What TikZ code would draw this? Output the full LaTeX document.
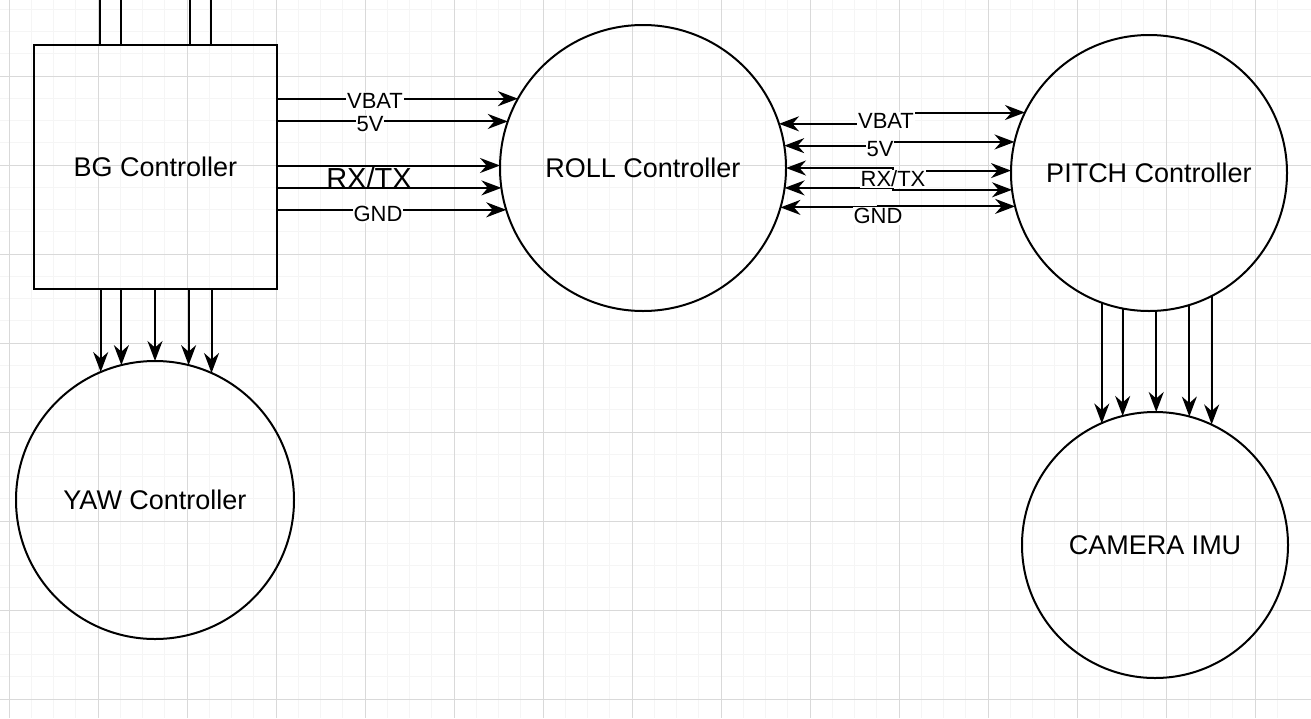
\documentclass[tikz,border=0pt]{standalone}
\usepackage{fontspec}
\setmainfont{Liberation Sans}
\usetikzlibrary{arrows.meta}
\begin{document}
\begin{tikzpicture}[x=1pt,y=-1pt,line width=2pt,
  >={Stealth[length=20pt,width=15pt]},
  ctrl/.style={draw, circle, inner sep=0pt, outer sep=0pt, font=\fontsize{27}{30}\selectfont},
  lab/.style={fill=white, inner sep=1pt, font=\fontsize{22}{24}\selectfont}]
\useasboundingbox (0,0) rectangle (1311,718);
% grid
\foreach \i in {0,...,58} {
  \draw[line width=1pt, gray!8] ({9+22.25*(\i-1)},0) -- ({9+22.25*(\i-1)},718);
  \draw[line width=1pt, gray!8] (0,{-13+22.25*\i}) -- (1311,{-13+22.25*\i});
}
\foreach \i in {0,...,14} {
  \draw[line width=1pt, gray!30] ({9+89*\i},0) -- ({9+89*\i},718);
  \draw[line width=1pt, gray!30] (0,{-13+89*\i}) -- (1311,{-13+89*\i});
}
% nodes
\node[draw, rectangle, minimum width=243pt, minimum height=244pt, outer sep=0pt, font=\fontsize{27}{30}\selectfont] (bg) at (155.5,167) {BG Controller};
\node[ctrl, minimum size=286pt] (roll) at (643,168) {ROLL Controller};
\node[ctrl, minimum size=276pt] (pitch) at (1149,173) {PITCH Controller};
\node[ctrl, minimum size=278pt] (yaw) at (155,500) {YAW Controller};
\node[ctrl, minimum size=266pt] (cam) at (1155,545) {CAMERA IMU};
% wires leaving the top
\foreach \x in {100,121,190,211}
  \draw (\x,0) -- (\x,0 |- bg.north);
% BG to YAW
\foreach \a in {113.8,104.2,90,76.3,66.7}
  \draw[->] (bg.south -| yaw.\a) -- (yaw.\a);
% PITCH to CAMERA
\foreach \a/\b in {-110.8/114.4,-101.3/104.4,-87.5/90,-73.6/75.6,-63.8/65.6}
  \draw[->] (pitch.\a) -- (pitch.\a |- cam.\b);
% BG to ROLL
\foreach \a in {151.6,161.7,179.6,188.4,197.9}
  \draw[->] (bg.east |- roll.\a) -- (roll.\a);
\node[lab] (b1) at (375,101) {VBAT};
\node[lab] (b2) at (370,124) {5V};
\node[lab, font=\fontsize{29}{32}\selectfont, fill=none] (b3) at (369,178) {RX/TX};
\node[lab] (b4) at (378,214) {GND};
% ROLL to PITCH
\node[lab] (r1) at (886,121) {VBAT};
\node[lab] (r2) at (880,149) {5V};
\node[lab] (r3) at (893,179) {RX/TX};
\node[lab] (r4) at (878,216) {GND};
\foreach \a/\b/\n in {18.8/154.7/r1,9.3/167.9/r2,0.4/179.6/r3,-8.4/187.1/r3,-16.2/194.3/r4}
  \draw[<->] (roll.\a) -- (roll.\a -| \n) |- (pitch.\b);
\foreach \n/\t in {r1/VBAT,r2/5V,r3/RX\slash TX,r4/GND}
  \node[lab] at (\n) {\t};
\end{tikzpicture}
\end{document}
